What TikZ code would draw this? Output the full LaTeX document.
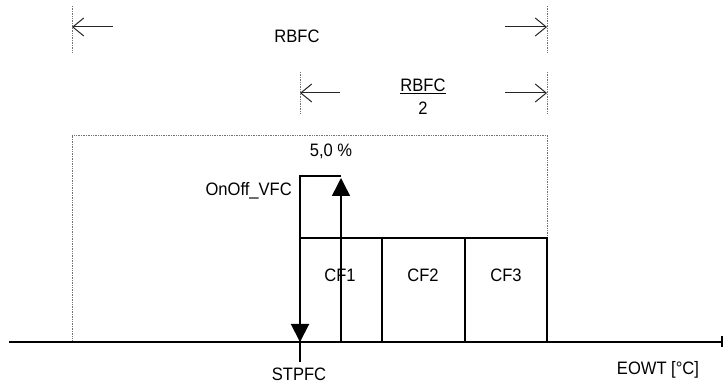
\documentclass[tikz,border=0pt]{standalone}
\usepackage{fontspec}
\setmainfont{Liberation Sans}[FakeStretch=0.92]
\usetikzlibrary{arrows.meta}
\begin{document}
\begin{tikzpicture}[x=1pt,y=-1pt,
  txt/.style={font=\fontsize{18}{21}\selectfont, inner sep=0pt, anchor=base},
  dimline/.style={line width=1pt, black!85, -{Straight Barb[length=11pt,width=18pt,line width=1pt]}},
  guide/.style={densely dotted, black!55, line width=0.7pt},
  cfbox/.style={draw, line width=2pt, minimum width=82.3pt, minimum height=104pt, inner sep=0pt, outer sep=0pt, anchor=south west},
  axisline/.style={line width=1.3pt},
  thickline/.style={line width=2pt, line join=miter},
  tri/.style={-{Triangle[length=18pt,width=18pt]}}
]
\useasboundingbox (0,0) rectangle (723,387);

% coordinates
\coordinate (gL1) at (72,6);   \coordinate (gL2) at (72,52);
\coordinate (gR1) at (547,6);  \coordinate (gR2) at (547,52);
\coordinate (hL1) at (300,72); \coordinate (hL2) at (300,113);
\coordinate (hR1) at (547,72); \coordinate (hR2) at (547,113);
\coordinate (a1s) at (113,27); \coordinate (a1e) at (72,27);
\coordinate (a2s) at (505,27); \coordinate (a2e) at (547,27);
\coordinate (b1s) at (340,93); \coordinate (b1e) at (300,93);
\coordinate (b2s) at (505,93); \coordinate (b2e) at (547,93);
\coordinate (rBL) at (72,342); \coordinate (rTL) at (72,135);
\coordinate (rTR) at (547,135); \coordinate (rBR) at (547,238);
\coordinate (ax0) at (9,342);  \coordinate (ax1) at (722,342);
\coordinate (axt1) at (722,336.5); \coordinate (axt2) at (722,347.5);
\coordinate (stp) at (300,342); \coordinate (stpb) at (300,362);
\coordinate (topL) at (300,176); \coordinate (topR) at (341,176);
\coordinate (upB) at (341,342); \coordinate (upT) at (341,178);

% guides
\draw[guide] (gL1) -- (gL2);
\draw[guide] (gR1) -- (gR2);
\draw[guide] (hL1) -- (hL2);
\draw[guide] (hR1) -- (hR2);
\draw[guide] (rBL) -- (rTL) -- (rTR) -- (rBR);

% dimension arrows
\draw[dimline] (a1s) -- (a1e);
\draw[dimline] (a2s) -- (a2e);
\draw[dimline] (b1s) -- (b1e);
\draw[dimline] (b2s) -- (b2e);

% texts
\node[txt] (rbfc) at (297,43) {RBFC};
\node[txt] (fnum) at (423,92) {RBFC};
\coordinate (fb1) at ([yshift=-1.5pt]fnum.base west);
\coordinate (fb2) at ([yshift=-1.5pt]fnum.base east);
\draw[line width=1.6pt] (fb1) -- (fb2);
\node[txt] (fden) at (423,115) {2};
\node[txt] (pct) at (331,157) {5,0 \%};
\node[txt, anchor=base east] (onoff) at (292,196) {OnOff\_VFC};
\node[txt] (stpfc) at (299,381) {STPFC};
\node[txt] (eowt) at (658,374) {EOWT [°C]};

% boxes
\node[cfbox] (cf1) at (300,342) {};
\node[cfbox] (cf2) at (cf1.south east) {};
\node[cfbox] (cf3) at (cf2.south east) {};
\node[txt] (cf1t) at (340,282) {CF1};
\node[txt] (cf2t) at (423,282) {CF2};
\node[txt] (cf3t) at (506,282) {CF3};

% axis
\draw[axisline] (ax0) -- (ax1);
\draw[axisline] (axt1) -- (axt2);

% hysteresis arrows
\draw[thickline, tri] (topR) -- (topL) -- (stp);
\draw[line width=2.5pt] (stp) -- (stpb);
\draw[line width=1.5pt, tri] (upB) -- (upT);
\end{tikzpicture}
\end{document}
